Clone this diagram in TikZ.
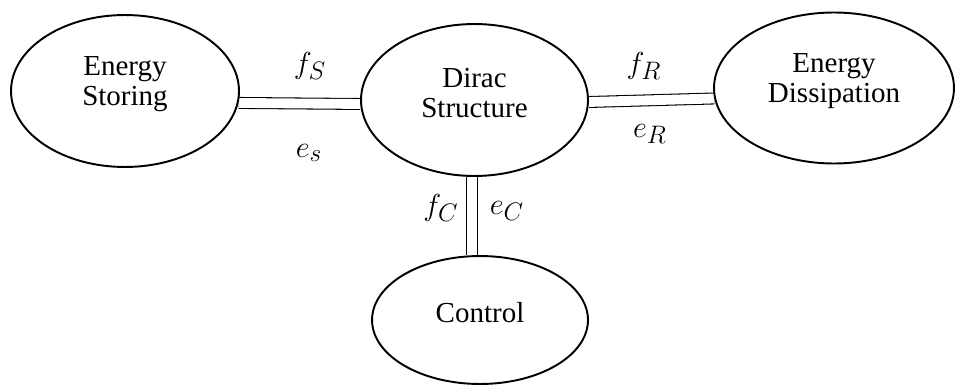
\documentclass[tikz,border=0pt]{standalone}
\usepackage{fontspec}
\setmainfont{Liberation Serif}
\usetikzlibrary{shapes.geometric,backgrounds}

\tikzset{
  block/.style={ellipse, draw, line width=1.1pt, inner sep=0pt},
  txt/.style={align=center, font=\fontsize{16.5}{17}\selectfont, yshift=4pt},
  bond/.style={double, double distance=5.6pt, line width=0.6pt},
  lbl/.style={font=\fontsize{19}{20}\selectfont}
}

\begin{document}
\begin{tikzpicture}[x=0.02cm,y=-0.02cm]
      \useasboundingbox (0,0) rectangle (955,385);
      % the four parts
      \node[block, minimum width=4.56cm, minimum height=3.04cm,
        label={[txt]center:Energy\\Storing}] (store) at (125,91) {};
      \node[block, minimum width=4.54cm, minimum height=3.04cm,
        label={[txt]center:Dirac\\Structure}] (dirac) at (474.5,100) {};
      \node[block, minimum width=4.8cm, minimum height=3.02cm,
        label={[txt]center:Energy\\Dissipation}] (diss) at (834,88) {};
      \node[block, minimum width=4.32cm, minimum height=2.56cm,
        label={[txt]center:Control}] (ctrl) at (480,320) {};

      % bonds
      \begin{scope}[on background layer]
        \draw[bond] (store.-6) -- (dirac.182);
        \draw[bond] (dirac.-1) -- (diss.185);
        \draw[bond] (dirac.268) -- (dirac.268 |- ctrl.north);
      \end{scope}

      % flows and efforts
      \node[lbl] (fS) at (310,66) {$f_S$};
      \node[lbl] (eS) at (309,153) {$e_s$};
      \node[lbl] (fR) at (644,66) {$f_R$};
      \node[lbl] (eR) at (650,134) {$e_R$};
      \node[lbl] (fC) at (441,208) {$f_C$};
      \node[lbl] (eC) at (507,211) {$e_C$};
\end{tikzpicture}
\end{document}
